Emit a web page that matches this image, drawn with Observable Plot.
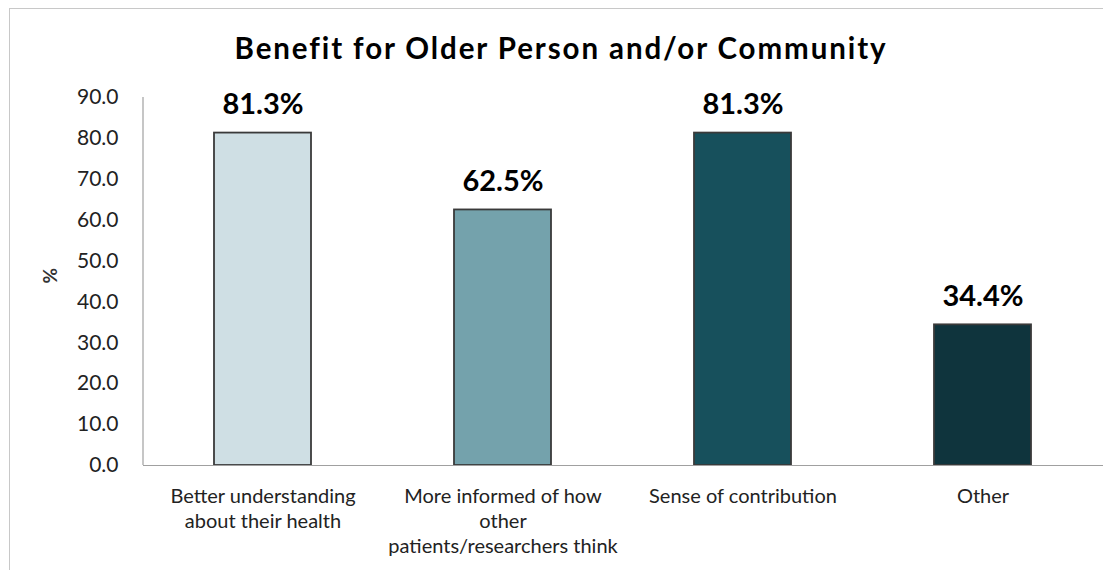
<!DOCTYPE html>
<html>
<head>
<meta charset="utf-8">
<script src="https://cdn.jsdelivr.net/npm/d3@7"></script>
<script src="https://cdn.jsdelivr.net/npm/@observablehq/plot@0.6"></script>
<style>
  html, body { margin: 0; padding: 0; background: #fff; }
  #frame { position: absolute; left: 9px; top: 8px; width: 1094px; height: 562px; border: 1px solid #c8c8c8; border-right: none; border-bottom: none; box-sizing: border-box; }
  #wrap { position: absolute; left: 0; top: 0; width: 1105px; font-family: Lato, "Open Sans", sans-serif; }
  #title { height: 80px; line-height: 96px; text-align: center; font-size: 29.5px; letter-spacing: 1.9px; font-weight: bold; color: #000; padding-left: 17px; }
</style>
</head>
<body>
<div id="frame"></div>
<div id="wrap">
  <div id="title">Benefit for Older Person and/or Community</div>
  <div id="chart"></div>
</div>
<script>
const categories = [
  "Better understanding\nabout their health",
  "More informed of how\nother\npatients/researchers think",
  "Sense of contribution",
  "Other"
];
const values = [81.3, 62.5, 81.3, 34.4];
const colors = ["#cfdfe4", "#74a2ac", "#17505c", "#0f343d"];
const yTicks = [0, 10, 20, 30, 40, 50, 60, 70, 80, 90];

const data = categories.map((c, i) => ({category: c, value: values[i], color: colors[i]}));

const chart = Plot.plot({
  width: 1105,
  height: 493,
  marginLeft: 143,
  marginRight: 2,
  marginTop: 17,
  marginBottom: 108,
  style: {fontFamily: "Lato, 'Open Sans', sans-serif", background: "transparent"},
  x: {domain: categories, paddingInner: 0.595, paddingOuter: 0.2975, label: null},
  y: {domain: [0, 90], ticks: yTicks, label: null},
  marks: [
    Plot.axisY({ticks: yTicks, tickFormat: d => d.toFixed(1), tickSize: 0, tickPadding: 25, fontSize: 21, fill: "#222", label: null}),
    Plot.axisX({tickSize: 0, tickPadding: 20, fontSize: 20, fill: "#222", lineHeight: 1.25, label: null, textAnchor: "middle"}),
    Plot.barY(data, {x: "category", y: "value", fill: "color", stroke: "#3a3a3a", strokeWidth: 1.8}),
    Plot.text(data, {x: "category", y: "value", text: d => d.value.toFixed(1) + "%", dy: -28, fontSize: 29, fontWeight: "bold", fill: "#000"}),
    Plot.ruleY([0], {stroke: "#a0a0a0", strokeWidth: 1.2}),
    Plot.text(["%"], {frameAnchor: "left", dx: -93, dy: 2, rotate: -90, fontSize: 19, fontWeight: "bold", fill: "#333"})
  ]
});

// vertical axis line on the left edge
const svg = d3.select(chart);
svg.append("line")
  .attr("x1", 143).attr("x2", 143)
  .attr("y1", 17).attr("y2", 385)
  .attr("stroke", "#a0a0a0").attr("stroke-width", 1.2);

document.getElementById("chart").appendChild(chart);
</script>
</body>
</html>
